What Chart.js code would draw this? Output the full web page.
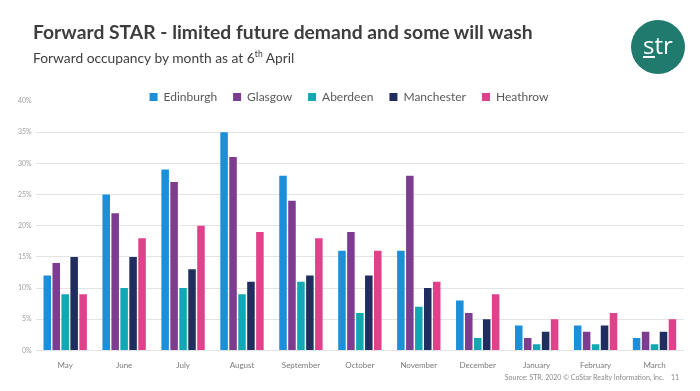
<!DOCTYPE html>
<html>
<head>
<meta charset="utf-8">
<script src="https://cdn.jsdelivr.net/npm/chart.js@4"></script>
<style>
  body { margin:0; background:#fff; font-family: Lato, "Open Sans", sans-serif; }
  #wrap { position:relative; width:700px; height:391px; overflow:hidden; }
  #myChart { position:absolute; left:0; top:0; }
  .title { position:absolute; left:33px; top:20px; font-size:19.3px; font-weight:bold; color:#3d3d3d; white-space:nowrap; }
  .subtitle { position:absolute; left:33px; top:49px; font-size:13.8px; color:#404040; white-space:nowrap; }
  .subtitle sup { font-size:8.5px; }
  .logo { position:absolute; left:631px; top:20px; width:54px; height:54px; border-radius:50%; background:#207a6e; color:#fff; text-align:center; font-size:24px; line-height:50px; font-family:"Open Sans", sans-serif; }
  .logo .s { display:inline-block; line-height:22px; border-bottom:2px solid #fff; }
  .foot { position:absolute; left:0; top:373px; width:664px; text-align:right; font-size:7px; color:#8a8a8a; white-space:nowrap; }
  .page { position:absolute; left:671px; top:373px; font-size:7px; color:#8a8a8a; }
</style>
</head>
<body>
<div id="wrap">
  <canvas id="myChart" width="700" height="391"></canvas>
  <div class="title">Forward STAR - limited future demand and some will wash</div>
  <div class="subtitle">Forward occupancy by month as at 6<sup>th</sup> April</div>
  <div class="logo"><span class="s">s</span>tr</div>
  <div class="foot">Source: STR. 2020 © CoStar Realty Information, Inc.</div>
  <div class="page">11</div>
</div>
<script>
const months = ['May','June','July','August','September','October','November','December','January','February','March'];
const edinburgh  = [12,25,29,35,28,16,16,8,4,4,2];
const glasgow    = [14,22,27,31,24,19,28,6,2,3,3];
const aberdeen   = [9,10,10,9,11,6,7,2,1,1,1];
const manchester = [15,15,13,11,12,12,10,5,3,4,3];
const heathrow   = [9,18,20,19,18,16,11,9,5,6,5];
const yTicks = [0,5,10,15,20,25,30,35,40];

const mk = (label, data, color) => ({
  label: label,
  data: data,
  backgroundColor: color,
  borderWidth: 0,
  barPercentage: 0.84,
  categoryPercentage: 0.76
});

const data = {
  labels: months,
  datasets: [
    mk('Edinburgh', edinburgh, '#1b8fd9'),
    mk('Glasgow', glasgow, '#7d3c8f'),
    mk('Aberdeen', aberdeen, '#12a8b3'),
    mk('Manchester', manchester, '#1f2e5e'),
    mk('Heathrow', heathrow, '#e0418a')
  ]
};

// legend sits close to the top of the plot, so let it reserve less room
// during layout and give the full height back before drawing
const legendSqueeze = {
  id: 'legendSqueeze',
  beforeLayout(chart) {
    const lg = chart.legend;
    if (lg && !lg._squeezed) {
      const fit = lg.fit;
      lg.fit = function () {
        fit.call(this);
        this._fullHeight = this.height;
        this.height = 26;
      };
      lg._squeezed = true;
    }
  },
  afterLayout(chart) {
    const lg = chart.legend;
    if (lg && lg._fullHeight) {
      lg.height = lg._fullHeight;
      lg.bottom = lg.top + lg._fullHeight;
    }
  }
};

const config = {
  type: 'bar',
  data: data,
  plugins: [legendSqueeze],
  options: {
    responsive: false,
    animation: false,
    layout: { padding: { top: 75, left: 14, right: 16, bottom: 19 } },
    plugins: {
      tooltip: { enabled: false },
      legend: {
        position: 'top',
        labels: {
          boxWidth: 8,
          boxHeight: 8,
          padding: 16,
          color: '#595959',
          font: { family: 'Lato', size: 12, lineHeight: 0.6 }
        }
      }
    },
    scales: {
      x: {
        grid: { display: false },
        border: { display: false },
        ticks: { color: '#7a7a7a', font: { family: 'Lato', size: 8 }, padding: 2 }
      },
      y: {
        min: 0,
        max: 40,
        afterBuildTicks: (axis) => { axis.ticks = yTicks.map(v => ({ value: v })); },
        border: { display: false },
        grid: {
          drawTicks: false,
          color: (ctx) => ctx.tick && ctx.tick.value === 40 ? 'rgba(0,0,0,0)' : '#e3e3e3',
          lineWidth: 1
        },
        ticks: {
          color: '#a0a0a0',
          padding: 4,
          font: { family: 'Lato', size: 7 },
          callback: (v) => v + '%'
        }
      }
    }
  }
};

const myChart = new Chart(document.getElementById('myChart'), config);
</script>
</body>
</html>
